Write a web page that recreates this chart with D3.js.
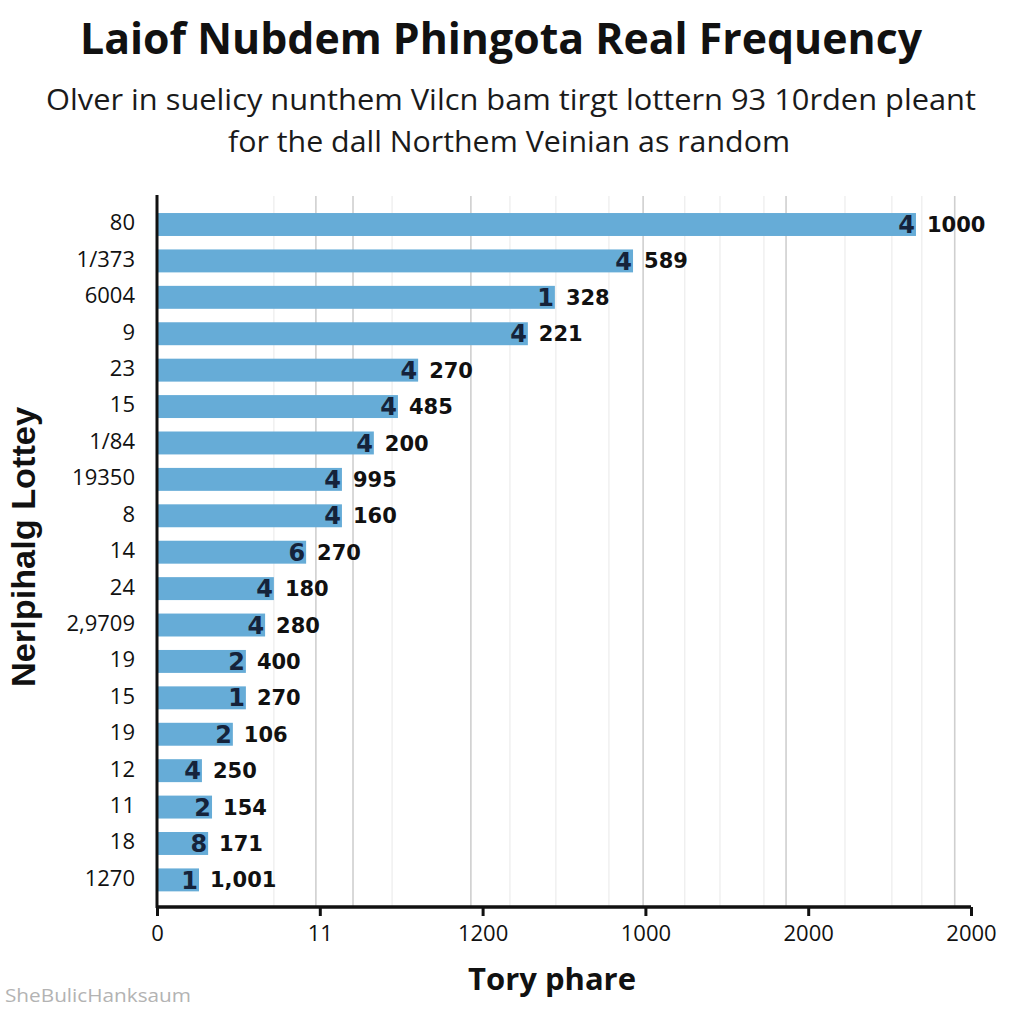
<!DOCTYPE html>
<html>
<head>
<meta charset="utf-8">
<script src="https://cdn.jsdelivr.net/npm/d3@7"></script>
<style>
  html, body { margin: 0; padding: 0; background: #ffffff; }
  svg { display: block; }
</style>
</head>
<body>
<svg id="chart" width="1024" height="1024"></svg>
<script>
// ---- data ----
const categories = ["80","1/373","6004","9","23","15","1/84","19350","8","14","24","2,9709","19","15","19","12","11","18","1270"];
const barValues = [2331,1462,1222,1139,802,740,666,568,568,458,359,332,273,273,233,138,169,157,129];
const innerLabels = ["4","4","1","4","4","4","4","4","4","6","4","4","2","1","2","4","2","8","1"];
const valueLabels = ["1000","589","328","221","270","485","200","995","160","270","180","280","400","270","106","250","154","171","1,001"];
const tickValues = [0,500,1000,1500,2000,2500];
const tickLabels = ["0","11","1200","1000","2000","2000"];
const majorGrid = [488,602,964,1493,1932,2450];
const minorGrid = [359,722,1084,1225,1388,1621,1729,1864,2113,2257,2349];
const titleText = "Laiof Nubdem Phingota Real Frequency";
const subtitleLines = ["Olver in suelicy nunthem Vilcn bam tirgt lottern 93 10rden pleant","for the dall Northem Veinian as random"];
const xTitle = "Tory phare";
const yTitle = "Nerlpihalg Lottey";
const watermark = "SheBulicHanksaum";

(function(){
// ---- layout ----
const svg = d3.select("#chart");
const pL = 157, pR = 971, pT = 206.3, pB = 898.1, axisY = 907;
const x = d3.scaleLinear().domain([0, 2500]).range([pL, pR]);
const y = d3.scaleBand().domain(d3.range(categories.length)).range([pT, pB])
  .paddingInner(0.37).paddingOuter(0.185);

svg.append("rect").attr("width",1024).attr("height",1024).attr("fill","#ffffff");

// title
svg.append("text").attr("x",501).attr("y",54).attr("text-anchor","middle")
  .attr("font-family","'Open Sans', sans-serif").attr("font-weight",700).attr("font-size",43)
  .attr("textLength",842).attr("lengthAdjust","spacingAndGlyphs").attr("fill","#111")
  .text(titleText);
const subPos = [{cx:511,by:110,len:930},{cx:509,by:152,len:562}];
subtitleLines.forEach((t,i)=>{
  svg.append("text").attr("x",subPos[i].cx).attr("y",subPos[i].by).attr("text-anchor","middle")
    .attr("font-family","'Open Sans', sans-serif").attr("font-size",29)
    .attr("textLength",subPos[i].len).attr("lengthAdjust","spacingAndGlyphs").attr("fill","#1a1a1a")
    .text(t);
});

// gridlines
const gridG = svg.append("g");
gridG.selectAll("line.minor").data(minorGrid).join("line").attr("class","minor")
  .attr("x1",d=>x(d)).attr("x2",d=>x(d)).attr("y1",196).attr("y2",axisY)
  .attr("stroke","#ececec").attr("stroke-width",1.2);
gridG.selectAll("line.major").data(majorGrid).join("line").attr("class","major")
  .attr("x1",d=>x(d)).attr("x2",d=>x(d)).attr("y1",196).attr("y2",axisY)
  .attr("stroke","#cfcfcf").attr("stroke-width",1.6);

// bars
svg.append("g").selectAll("rect").data(barValues).join("rect")
  .attr("x", x(0)).attr("y",(d,i)=>y(i)).attr("width",d=>x(d)-x(0)).attr("height",y.bandwidth())
  .attr("fill","#66acd7");

// inner labels
svg.append("g").selectAll("text").data(innerLabels).join("text")
  .attr("x",(d,i)=>x(barValues[i])-1).attr("y",(d,i)=>y(i)+y.bandwidth()/2)
  .attr("dy","0.36em").attr("text-anchor","end")
  .attr("font-family","'DejaVu Sans', sans-serif").attr("font-weight",700).attr("font-size",24)
  .attr("fill","#15233b").text(d=>d);

// value labels
svg.append("g").selectAll("text").data(valueLabels).join("text")
  .attr("x",(d,i)=>x(barValues[i])+11).attr("y",(d,i)=>y(i)+y.bandwidth()/2)
  .attr("dy","0.36em").attr("text-anchor","start")
  .attr("font-family","'DejaVu Sans', sans-serif").attr("font-weight",700).attr("font-size",21)
  .attr("fill","#111").text(d=>d);

// category labels
svg.append("g").selectAll("text").data(categories).join("text")
  .attr("x",135).attr("y",(d,i)=>y(i)+y.bandwidth()/2-2)
  .attr("dy","0.36em").attr("text-anchor","end")
  .attr("font-family","'Open Sans', sans-serif").attr("font-size",22)
  .attr("fill","#111").text(d=>d);

// left axis line
svg.append("line").attr("x1",pL).attr("x2",pL).attr("y1",195).attr("y2",axisY+1)
  .attr("stroke","#111").attr("stroke-width",3);

// bottom axis
const xAxis = d3.axisBottom(x).tickValues(tickValues).tickSize(9).tickPadding(9)
  .tickFormat((d,i)=>tickLabels[i]);
const gx = svg.append("g").attr("transform",`translate(0,${axisY})`).call(xAxis);
gx.select(".domain").attr("stroke","#111").attr("stroke-width",3.5).attr("d",`M${pL},0H${pR}`);
gx.selectAll(".tick line").attr("stroke","#111").attr("stroke-width",3);
gx.selectAll(".tick text").attr("font-family","'Open Sans', sans-serif").attr("font-size",22).attr("fill","#111");

// axis titles
svg.append("text").attr("x",552).attr("y",990).attr("text-anchor","middle")
  .attr("font-family","'Open Sans', sans-serif").attr("font-weight",700).attr("font-size",31)
  .attr("fill","#111").text(xTitle);
svg.append("text").attr("transform","translate(35,547) rotate(-90)").attr("text-anchor","middle")
  .attr("font-family","'Liberation Sans', Arial, sans-serif").attr("font-weight",700).attr("font-size",33)
  .attr("textLength",280).attr("lengthAdjust","spacingAndGlyphs")
  .attr("fill","#111").text(yTitle);

// watermark
svg.append("text").attr("x",5).attr("y",1002)
  .attr("font-family","'Open Sans', sans-serif").attr("font-size",18)
  .attr("textLength",186).attr("lengthAdjust","spacingAndGlyphs")
  .attr("fill","#b3b3b3").text(watermark);
})();
</script>
</body>
</html>
